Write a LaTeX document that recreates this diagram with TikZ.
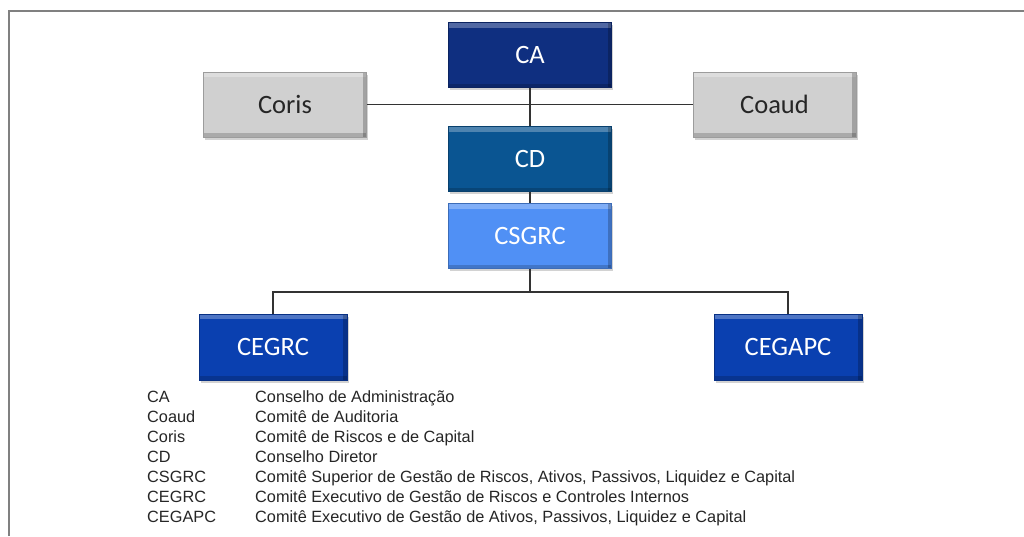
\documentclass[tikz,border=0pt]{standalone}
\usepackage{fontspec}
\setmainfont{Liberation Sans}
\newfontfamily\boxfont{Carlito}
\usetikzlibrary{shadows}
\definecolor{caBlue}{HTML}{0F2F80}
\definecolor{cdBlue}{HTML}{0A5592}
\definecolor{csBlue}{HTML}{5090F5}
\definecolor{ceBlue}{HTML}{0A40B0}
\definecolor{boxGray}{HTML}{D0D0D0}
\definecolor{frameGray}{HTML}{808080}
\definecolor{lineGray}{HTML}{333333}
\tikzset{
  orgbox/.style={rectangle, minimum width=163pt, minimum height=65pt, inner sep=0pt,
    font=\boxfont\fontsize{26.5}{30}\selectfont, text=white,
    draw=#1!75!black, line width=0.8pt, fill=#1,
    drop shadow={shadow xshift=1.5pt, shadow yshift=-2.5pt, opacity=0.35},
    path picture={
      \fill[white,opacity=0.28] (path picture bounding box.north west) rectangle ([yshift=-5pt]path picture bounding box.north east);
      \fill[black,opacity=0.22] ([xshift=-4pt]path picture bounding box.north east) rectangle (path picture bounding box.south east);
      \fill[black,opacity=0.18] ([yshift=4pt]path picture bounding box.south west) rectangle (path picture bounding box.south east);
    }},
  graybox/.style={orgbox=boxGray, text=black!85},
  conn/.style={draw=lineGray, line width=1.1pt},
  legab/.style={anchor=base west, inner sep=0pt, font=\fontsize{16.3}{19}\selectfont, text=black!85},
}
\begin{document}
\begin{tikzpicture}[x=1pt, y=-1pt]
\useasboundingbox[fill=white] (0,0) rectangle (1024,536);
% frame
\draw[frameGray, line width=2pt] (8.5,536) -- (8.5,10.5) -- (1024,10.5);
% nodes
\node[orgbox=caBlue] (CA) at (530,55) {CA};
\node[graybox] (Coris) at (285,104.5) {Coris};
\node[graybox] (Coaud) at (774.5,104.5) {Coaud};
\node[orgbox=cdBlue] (CD) at (530,159) {CD};
\node[orgbox=csBlue] (CSGRC) at (530,236) {CSGRC};
\node[orgbox=ceBlue, minimum width=148pt, minimum height=66pt] (CEGRC) at (273,347) {CEGRC};
\node[orgbox=ceBlue, minimum width=148pt, minimum height=66pt] (CEGAPC) at (788,347) {CEGAPC};
\coordinate (j) at (530,292);
% connectors
\draw[conn] (Coris.east) -- (Coaud.west);
\draw[conn] (CA.south) -- (CD.north);
\draw[conn] (CD.south) -- (CSGRC.north);
\draw[conn] (CSGRC.south) -- (j);
\draw[conn] (j) -| (CEGRC.north);
\draw[conn] (j) -| (CEGAPC.north);
% legend
\foreach \ab/\de [count=\i] in {
  CA/{Conselho de Administração},
  Coaud/{Comitê de Auditoria},
  Coris/{Comitê de Riscos e de Capital},
  CD/{Conselho Diretor},
  CSGRC/{Comitê Superior de Gestão de Riscos, Ativos, Passivos, Liquidez e Capital},
  CEGRC/{Comitê Executivo de Gestão de Riscos e Controles Internos},
  CEGAPC/{Comitê Executivo de Gestão de Ativos, Passivos, Liquidez e Capital}}{
  \node[legab] (la\i) at (147,{382.5+20*\i}) {\ab};
  \node[legab] (ld\i) at (255,{382.5+20*\i}) {\de};
}
\end{tikzpicture}
\end{document}
